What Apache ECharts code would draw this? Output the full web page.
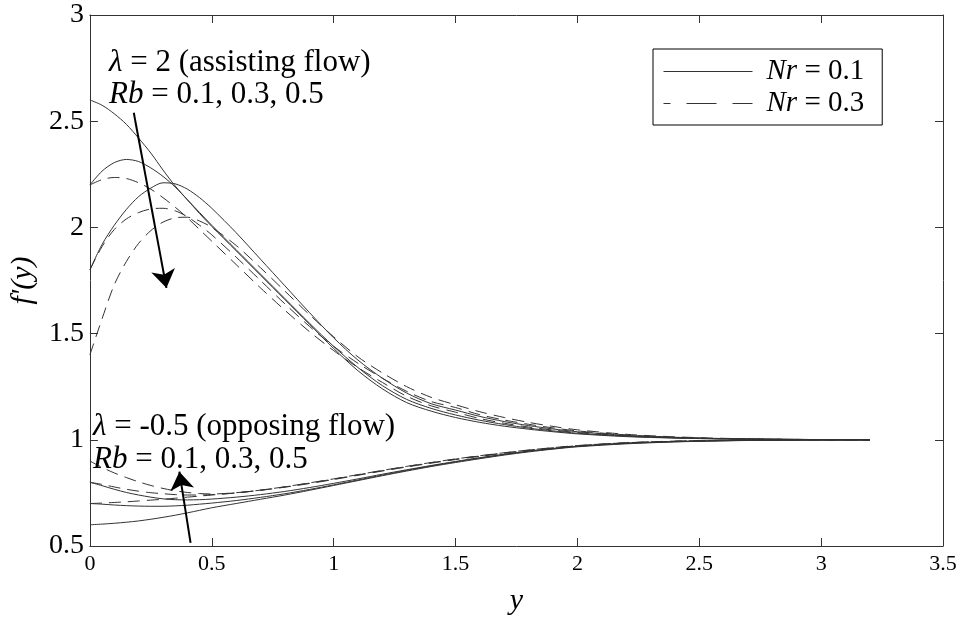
<!DOCTYPE html>
<html>
<head>
<meta charset="utf-8">
<script src="https://cdn.jsdelivr.net/npm/echarts@6/dist/echarts.min.js"></script>
<style>html,body{margin:0;padding:0;background:#fff}#c{width:965px;height:621px}</style>
</head>
<body>
<div id="c"></div>
<script>
// ---- data ----
const X = [0, 0.05, 0.1, 0.15, 0.2, 0.25, 0.3, 0.35, 0.4, 0.45, 0.5, 0.6, 0.7, 0.8, 0.9, 1.0, 1.1, 1.2, 1.3, 1.4, 1.5, 1.6, 1.7, 1.8, 1.9, 2.0, 2.2, 2.4, 2.6, 2.8, 3.0, 3.2];
const xTicks = [0, 0.5, 1, 1.5, 2, 2.5, 3, 3.5];
const yTicks = [0.5, 1, 1.5, 2, 2.5, 3];

// lambda = 2 (assisting flow)
const lam2_Nr01_Rb01 = [2.60, 2.575, 2.535, 2.485, 2.42, 2.35, 2.27, 2.195, 2.13, 2.065, 2.005, 1.89, 1.775, 1.66, 1.545, 1.43, 1.325, 1.24, 1.175, 1.135, 1.105, 1.082, 1.064, 1.05, 1.038, 1.028, 1.015, 1.008, 1.004, 1.002, 1.001, 1.0];
const lam2_Nr01_Rb03 = [2.20, 2.265, 2.305, 2.32, 2.31, 2.28, 2.24, 2.19, 2.13, 2.07, 2.01, 1.895, 1.78, 1.665, 1.55, 1.44, 1.34, 1.255, 1.19, 1.148, 1.117, 1.092, 1.072, 1.055, 1.042, 1.031, 1.017, 1.009, 1.004, 1.002, 1.001, 1.0];
const lam2_Nr01_Rb05 = [1.80, 1.92, 2.01, 2.085, 2.145, 2.185, 2.21, 2.205, 2.18, 2.14, 2.09, 1.975, 1.85, 1.725, 1.60, 1.48, 1.375, 1.29, 1.22, 1.17, 1.14, 1.11, 1.086, 1.067, 1.051, 1.038, 1.021, 1.011, 1.005, 1.003, 1.001, 1.0];
const lam2_Nr03_Rb01 = [2.20, 2.225, 2.235, 2.23, 2.21, 2.18, 2.14, 2.095, 2.045, 1.99, 1.935, 1.825, 1.715, 1.61, 1.51, 1.42, 1.34, 1.27, 1.205, 1.16, 1.13, 1.10, 1.078, 1.06, 1.046, 1.034, 1.019, 1.01, 1.005, 1.002, 1.001, 1.0];
const lam2_Nr03_Rb03 = [1.80, 1.91, 1.99, 2.04, 2.07, 2.087, 2.09, 2.078, 2.05, 2.01, 1.965, 1.86, 1.75, 1.64, 1.535, 1.44, 1.36, 1.29, 1.228, 1.18, 1.152, 1.118, 1.093, 1.073, 1.056, 1.042, 1.023, 1.012, 1.006, 1.003, 1.001, 1.0];
const lam2_Nr03_Rb05 = [1.40, 1.57, 1.73, 1.84, 1.925, 1.985, 2.025, 2.045, 2.048, 2.03, 2.00, 1.915, 1.81, 1.70, 1.59, 1.485, 1.39, 1.315, 1.25, 1.20, 1.165, 1.132, 1.105, 1.082, 1.063, 1.047, 1.026, 1.014, 1.007, 1.003, 1.001, 1.0];

// lambda = -0.5 (opposing flow)
const lamM05_Nr01_Rb01 = [0.60, 0.603, 0.607, 0.612, 0.618, 0.626, 0.635, 0.645, 0.656, 0.668, 0.68, 0.70, 0.72, 0.74, 0.762, 0.785, 0.808, 0.831, 0.853, 0.874, 0.893, 0.911, 0.928, 0.943, 0.956, 0.967, 0.981, 0.99, 0.995, 0.998, 0.999, 1.0];
const lamM05_Nr01_Rb03 = [0.70, 0.697, 0.693, 0.69, 0.688, 0.687, 0.687, 0.689, 0.692, 0.697, 0.702, 0.714, 0.729, 0.746, 0.766, 0.788, 0.811, 0.834, 0.856, 0.877, 0.896, 0.914, 0.931, 0.946, 0.958, 0.969, 0.983, 0.991, 0.996, 0.998, 0.999, 1.0];
const lamM05_Nr01_Rb05 = [0.80, 0.784, 0.767, 0.752, 0.74, 0.73, 0.722, 0.718, 0.717, 0.718, 0.721, 0.73, 0.742, 0.757, 0.775, 0.795, 0.816, 0.838, 0.859, 0.879, 0.898, 0.916, 0.932, 0.947, 0.959, 0.97, 0.984, 0.992, 0.996, 0.998, 0.999, 1.0];
const lamM05_Nr03_Rb01 = [0.70, 0.702, 0.705, 0.708, 0.712, 0.716, 0.72, 0.725, 0.73, 0.735, 0.74, 0.75, 0.762, 0.777, 0.794, 0.813, 0.833, 0.853, 0.872, 0.89, 0.907, 0.922, 0.937, 0.95, 0.961, 0.971, 0.985, 0.993, 0.997, 0.999, 1.0, 1.0];
const lamM05_Nr03_Rb03 = [0.80, 0.79, 0.778, 0.767, 0.758, 0.751, 0.746, 0.742, 0.74, 0.74, 0.742, 0.75, 0.763, 0.778, 0.796, 0.815, 0.835, 0.855, 0.874, 0.892, 0.909, 0.924, 0.938, 0.951, 0.962, 0.972, 0.986, 0.993, 0.997, 0.999, 1.0, 1.0];
const lamM05_Nr03_Rb05 = [0.90, 0.87, 0.844, 0.822, 0.802, 0.785, 0.771, 0.76, 0.752, 0.747, 0.745, 0.751, 0.763, 0.779, 0.797, 0.816, 0.836, 0.856, 0.875, 0.893, 0.91, 0.925, 0.939, 0.952, 0.963, 0.973, 0.986, 0.994, 0.997, 0.999, 1.0, 1.0];

const legendNames = ['Nr = 0.1', 'Nr = 0.3'];

// annotation arrows (data coordinates: tail, head)
const arrowAssisting = [[0.18, 2.54], [0.314, 1.715]];
const arrowOpposing = [[0.413, 0.515], [0.367, 0.85]];

// ---- chart ----
const serif = "'Liberation Serif', 'Times New Roman', serif";
const chart = echarts.init(document.getElementById('c'), null, {renderer: 'canvas'});

const curveDefs = [
  {vals: lam2_Nr01_Rb01, nr: 0}, {vals: lam2_Nr01_Rb03, nr: 0}, {vals: lam2_Nr01_Rb05, nr: 0},
  {vals: lam2_Nr03_Rb01, nr: 1}, {vals: lam2_Nr03_Rb03, nr: 1}, {vals: lam2_Nr03_Rb05, nr: 1},
  {vals: lamM05_Nr01_Rb01, nr: 0}, {vals: lamM05_Nr01_Rb03, nr: 0}, {vals: lamM05_Nr01_Rb05, nr: 0},
  {vals: lamM05_Nr03_Rb01, nr: 1}, {vals: lamM05_Nr03_Rb03, nr: 1}, {vals: lamM05_Nr03_Rb05, nr: 1}
];

const series = curveDefs.map(c => ({
  type: 'line',
  name: legendNames[c.nr],
  data: X.map((x, i) => [x, c.vals[i]]),
  symbol: 'none',
  showSymbol: false,
  smooth: 0.3,
  silent: true,
  itemStyle: {color: '#333'},
  lineStyle: {color: '#333', width: 1, type: c.nr ? [12, 7] : 'solid'},
  z: 2
}));

series.push({
  type: 'lines',
  coordinateSystem: 'cartesian2d',
  xAxisIndex: 0, yAxisIndex: 0,
  data: [{coords: arrowAssisting}, {coords: arrowOpposing}],
  symbol: ['none', 'arrow'],
  symbolSize: 18,
  lineStyle: {color: '#000', width: 2, opacity: 1, curveness: 0},
  silent: true,
  z: 5
});

const axisCommon = {
  type: 'value',
  splitLine: {show: false},
  axisLine: {show: true, onZero: false, lineStyle: {color: '#333', width: 1}},
  axisTick: {show: true, inside: true, length: 8, lineStyle: {color: '#333'}}
};

const option = {
  animation: false,
  backgroundColor: '#fff',
  grid: {left: 86, right: 22, top: 15, bottom: 65, containLabel: false},
  xAxis: [
    Object.assign({}, axisCommon, {
      min: xTicks[0], max: xTicks[xTicks.length - 1], interval: xTicks[1] - xTicks[0],
      position: 'bottom',
      axisLabel: {fontFamily: serif, fontSize: 22, color: '#000', margin: 7},
      name: 'y', nameLocation: 'middle', nameGap: 40,
      nameTextStyle: {fontFamily: serif, fontStyle: 'italic', fontSize: 30, color: '#000'}
    }),
    Object.assign({}, axisCommon, {
      min: xTicks[0], max: xTicks[xTicks.length - 1], interval: xTicks[1] - xTicks[0],
      position: 'top', axisLabel: {show: false}
    })
  ],
  yAxis: [
    Object.assign({}, axisCommon, {
      min: yTicks[0], max: yTicks[yTicks.length - 1], interval: yTicks[1] - yTicks[0],
      position: 'left',
      axisLabel: {fontFamily: serif, fontSize: 28, color: '#000', margin: 6},
      name: "f'(y)", nameLocation: 'middle', nameGap: 43, nameRotate: 90,
      nameTextStyle: {fontFamily: serif, fontStyle: 'italic', fontSize: 30, color: '#000'}
    }),
    Object.assign({}, axisCommon, {
      min: yTicks[0], max: yTicks[yTicks.length - 1], interval: yTicks[1] - yTicks[0],
      position: 'right', axisLabel: {show: false}
    })
  ],
  legend: {
    data: [
      {name: legendNames[0]},
      {name: legendNames[1], lineStyle: {type: [30, 16], dashOffset: 23}}
    ],
    orient: 'vertical',
    left: 653, top: 49,
    itemWidth: 89, itemHeight: 14, itemGap: 3,
    padding: [8, 18, 7, 10],
    borderColor: '#000', borderWidth: 1, borderRadius: 0,
    backgroundColor: '#fff',
    selectedMode: false,
    itemStyle: {opacity: 0, borderWidth: 0},
    lineStyle: {color: '#333', width: 1},
    formatter: n => '{i|Nr}' + n.slice(2),
    textStyle: {
      fontFamily: serif, fontSize: 29, color: '#000', lineHeight: 28, padding: [0, 0, 0, 9],
      rich: {i: {fontFamily: serif, fontStyle: 'italic', fontSize: 29, color: '#000', lineHeight: 28}}
    }
  },
  graphic: [
    {type: 'text', left: 109, top: 47, z: 10, style: {text: '{l|λ} = 2 (assisting flow)', font: '31px ' + serif, fill: '#000', rich: {l: {fontStyle: 'italic', fontFamily: serif, fontSize: 31}}}},
    {type: 'text', left: 109, top: 79, z: 10, style: {text: '{i|Rb} = 0.1, 0.3, 0.5', font: '31px ' + serif, fill: '#000', rich: {i: {fontStyle: 'italic', fontFamily: serif, fontSize: 31}}}},
    {type: 'text', left: 93, top: 411, z: 10, style: {text: '{l|λ} = -0.5 (opposing flow)', font: '31px ' + serif, fill: '#000', rich: {l: {fontStyle: 'italic', fontFamily: serif, fontSize: 31}}}},
    {type: 'text', left: 93, top: 444, z: 10, style: {text: '{i|Rb} = 0.1, 0.3, 0.5', font: '31px ' + serif, fill: '#000', rich: {i: {fontStyle: 'italic', fontFamily: serif, fontSize: 31}}}}
  ],
  series: series
};
chart.setOption(option);
</script>
</body>
</html>
